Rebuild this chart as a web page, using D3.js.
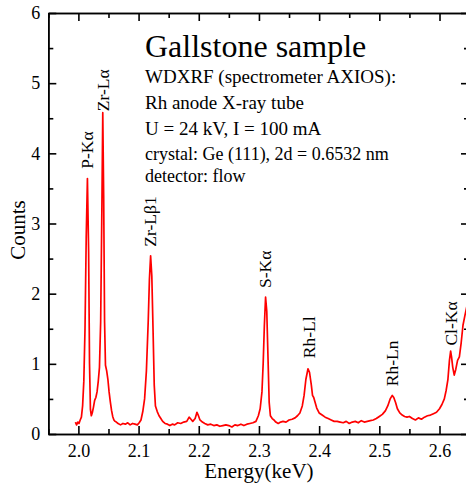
<!DOCTYPE html>
<html><head><meta charset="utf-8">
<script src="https://cdn.jsdelivr.net/npm/d3@7"></script>
<style>
html,body{margin:0;padding:0;background:#fff;}
text{font-family:"Liberation Serif","Times New Roman",serif;fill:#000;}
</style></head>
<body>
<svg id="c" width="466" height="488"></svg>
<script>
const energy = [1.995,1.997,1.999,2.001,2.003,2.005,2.007,2.009,2.011,2.013,2.015,2.017,2.0185,2.020,2.0215,2.023,2.025,2.027,2.029,2.031,2.033,2.035,2.037,2.039,2.0405,2.042,2.0435,2.045,2.047,2.049,2.051,2.053,2.055,2.057,2.059,2.061,2.063,2.066,2.070,2.074,2.078,2.082,2.086,2.090,2.094,2.098,2.101,2.104,2.107,2.110,2.113,2.116,2.118,2.120,2.122,2.124,2.126,2.128,2.131,2.134,2.137,2.140,2.144,2.148,2.152,2.156,2.160,2.165,2.170,2.175,2.180,2.184,2.187,2.190,2.194,2.197,2.199,2.202,2.206,2.210,2.215,2.220,2.225,2.230,2.235,2.240,2.245,2.250,2.255,2.260,2.265,2.270,2.275,2.280,2.285,2.290,2.295,2.299,2.302,2.305,2.307,2.309,2.311,2.313,2.315,2.317,2.319,2.322,2.325,2.328,2.332,2.336,2.340,2.345,2.350,2.355,2.360,2.364,2.368,2.372,2.375,2.378,2.3815,2.384,2.387,2.389,2.391,2.393,2.396,2.400,2.405,2.410,2.415,2.420,2.425,2.430,2.435,2.440,2.445,2.450,2.455,2.460,2.465,2.470,2.475,2.480,2.485,2.490,2.495,2.500,2.505,2.510,2.514,2.518,2.5215,2.524,2.527,2.530,2.534,2.538,2.542,2.546,2.550,2.555,2.560,2.565,2.570,2.575,2.580,2.585,2.590,2.595,2.600,2.604,2.608,2.611,2.614,2.6165,2.6185,2.620,2.622,2.6245,2.627,2.630,2.633,2.636,2.639,2.642,2.645,2.650];
const counts = [0.17,0.13,0.17,0.15,0.20,0.24,0.40,0.75,1.50,2.80,3.64,2.60,1.00,0.35,0.26,0.30,0.38,0.48,0.52,0.60,0.75,0.95,1.60,3.20,4.58,3.40,1.60,0.98,0.90,0.78,0.60,0.46,0.34,0.25,0.20,0.18,0.17,0.15,0.13,0.15,0.14,0.16,0.13,0.15,0.14,0.13,0.16,0.20,0.32,0.50,0.90,1.60,2.20,2.54,2.25,1.50,0.70,0.40,0.32,0.26,0.22,0.18,0.15,0.14,0.12,0.14,0.13,0.16,0.15,0.17,0.18,0.24,0.21,0.18,0.22,0.31,0.27,0.20,0.17,0.15,0.13,0.14,0.12,0.13,0.11,0.12,0.13,0.12,0.10,0.13,0.12,0.14,0.12,0.14,0.15,0.16,0.18,0.26,0.36,0.60,1.00,1.55,1.95,1.75,1.10,0.45,0.26,0.22,0.20,0.17,0.15,0.17,0.18,0.17,0.20,0.21,0.23,0.26,0.30,0.40,0.55,0.78,0.93,0.88,0.70,0.55,0.52,0.46,0.37,0.30,0.27,0.24,0.22,0.20,0.18,0.18,0.17,0.16,0.18,0.15,0.17,0.18,0.16,0.19,0.17,0.18,0.19,0.20,0.22,0.25,0.28,0.33,0.40,0.50,0.55,0.52,0.45,0.36,0.30,0.27,0.25,0.24,0.25,0.22,0.20,0.23,0.21,0.24,0.26,0.27,0.29,0.31,0.36,0.42,0.50,0.62,0.78,1.05,1.18,1.10,0.95,0.84,0.92,1.05,1.10,1.30,1.55,1.68,1.80,2.00];

const xTicks = [2.0,2.1,2.2,2.3,2.4,2.5,2.6];
const xMinorTicks = [1.95,2.05,2.15,2.25,2.35,2.45,2.55,2.65];
const yTicks = [0,1,2,3,4,5,6];
const yMinorTicks = [0.5,1.5,2.5,3.5,4.5,5.5];

const peakNames = ["P-Kα","Zr-Lα","Zr-Lβ1","S-Kα","Rh-Ll","Rh-Ln","Cl-Kα"];
const peakEnergy = [2.0145,2.0405,2.1198,2.3105,2.3825,2.5210,2.6185];
const peakLabelBase = [3.78,4.60,2.67,2.08,1.08,0.68,1.26];

const titleText = "Gallstone sample";
const infoLines = ["WDXRF (spectrometer AXIOS):","Rh anode X-ray tube","U = 24 kV, I = 100 mA"];
const infoLines2 = ["crystal: Ge (111), 2d = 0.6532 nm","detector: flow"];

const svg = d3.select("#c");
const L = 48.3, R = 469.6, T = 13, B = 434;
const x = d3.scaleLinear().domain([1.95,2.65]).range([L,R]);
const y = d3.scaleLinear().domain([0,6]).range([B,T]);

svg.append("defs").append("clipPath").attr("id","clip")
  .append("rect").attr("x",L).attr("y",T).attr("width",R-L).attr("height",B-T);

const data = energy.map((e,i)=>[e,counts[i]]);
svg.append("path").datum(data)
  .attr("clip-path","url(#clip)")
  .attr("fill","none").attr("stroke","#ff0000").attr("stroke-width",1.7)
  .attr("stroke-linejoin","round")
  .attr("d", d3.line().x(d=>x(d[0])).y(d=>y(d[1])));

function styleAxis(g){
  g.selectAll(".domain").attr("stroke","#000").attr("stroke-width",1.6);
  g.selectAll(".tick line").attr("stroke","#000").attr("stroke-width",1.6);
  g.selectAll("text").style("font-family",'"Liberation Serif","Times New Roman",serif').style("font-size","18px").attr("fill","#000");
}
// bottom
svg.append("g").attr("transform",`translate(0,${B})`)
  .call(d3.axisBottom(x).tickValues(xTicks).tickSize(-8).tickPadding(10).tickSizeOuter(0).tickFormat(d3.format(".1f"))).call(styleAxis);
svg.append("g").attr("transform",`translate(0,${B})`)
  .call(d3.axisBottom(x).tickValues(xMinorTicks).tickSize(-5).tickSizeOuter(0).tickFormat("")).call(styleAxis);
// top
svg.append("g").attr("transform",`translate(0,${T})`)
  .call(d3.axisTop(x).tickValues(xTicks).tickSize(-8).tickSizeOuter(0).tickFormat("")).call(styleAxis);
svg.append("g").attr("transform",`translate(0,${T})`)
  .call(d3.axisTop(x).tickValues(xMinorTicks).tickSize(-5).tickSizeOuter(0).tickFormat("")).call(styleAxis);
// left
svg.append("g").attr("transform",`translate(${L},0)`)
  .call(d3.axisLeft(y).tickValues(yTicks).tickSize(-8).tickPadding(8).tickSizeOuter(0).tickFormat(d3.format("d"))).call(styleAxis);
svg.append("g").attr("transform",`translate(${L},0)`)
  .call(d3.axisLeft(y).tickValues(yMinorTicks).tickSize(-5).tickSizeOuter(0).tickFormat("")).call(styleAxis);
// right
svg.append("g").attr("transform",`translate(${R-0.6},0)`)
  .call(d3.axisRight(y).tickValues(yTicks).tickSize(-8).tickSizeOuter(0).tickFormat("")).call(styleAxis);
svg.append("g").attr("transform",`translate(${R-0.6},0)`)
  .call(d3.axisRight(y).tickValues(yMinorTicks).tickSize(-5).tickSizeOuter(0).tickFormat("")).call(styleAxis);

// axis titles
svg.append("text").attr("x",(L+R)/2).attr("y",478).attr("text-anchor","middle")
  .style("font-size","21px").text("Energy(keV)");
svg.append("text").attr("transform","translate(25,230) rotate(-90)").attr("text-anchor","middle")
  .style("font-size","21px").text("Counts");

// peak labels
peakNames.forEach((n,i)=>{
  svg.append("text")
    .attr("transform",`translate(${x(peakEnergy[i])+6},${y(peakLabelBase[i])}) rotate(-90)`)
    .attr("text-anchor","start").style("font-size","17.5px").text(n);
});

// annotation
svg.append("text").attr("x",145).attr("y",57).style("font-size","32px").text(titleText);
infoLines.forEach((t,i)=>{
  svg.append("text").attr("x",145).attr("y",83+i*26).style("font-size","19px").text(t);
});
infoLines2.forEach((t,i)=>{
  svg.append("text").attr("x",145).attr("y",160+i*22).style("font-size","18px").text(t);
});
</script>
</body></html>
